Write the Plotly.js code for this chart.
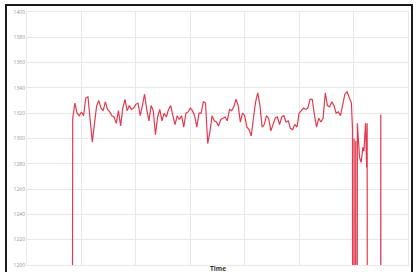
<!DOCTYPE html>
<html>
<head>
<meta charset="utf-8">
<script src="https://cdn.plot.ly/plotly-3.0.1.min.js"></script>
<style>
html,body{margin:0;padding:0;background:#fff;}
#chart{position:absolute;left:0;top:0;width:416px;height:272px;}
#frame{position:absolute;left:5px;top:4px;width:404px;height:290px;border:2px solid #1a1a1a;pointer-events:none;}
</style>
</head>
<body>
<div id="chart"></div>
<div id="frame"></div>
<script>
// Leading sample (below visible range)
const leadTime = [80];
const leadValues = [0];

// Main regularly sampled section
const mainStart = 84;
const mainStep = 4;
const mainValues = [
  1316,1328,1320,1318,1321,1318,1332,1333,1316,1297,
  1312,1326,1330,1324,1322,1329,1323,1321,1318,1317,
  1312,1322,1310,1324,1331,1322,1326,1323,1324,1327,
  1328,1318,1326,1335,1323,1314,1326,1322,1303,1317,
  1323,1314,1320,1317,1323,1326,1318,1311,1318,1315,
  1318,1309,1320,1321,1324,1322,1318,1309,1320,1320,
  1329,1328,1296,1305,1318,1314,1313,1310,1315,1316,
  1317,1314,1323,1322,1325,1331,1326,1313,1320,1318,
  1309,1307,1302,1316,1329,1336,1326,1309,1311,1318,
  1316,1306,1312,1316,1317,1311,1317,1318,1313,1314,
  1308,1307,1311,1309,1320,1322,1324,1323,1324,1331,
  1331,1319,1309,1316,1313,1316,1336,1326,1325,1329,
  1326,1320,1321,1318,1327,1335,1337,1332,1328
];

// Tail section with dropouts
const tailTime   = [598, 599, 601, 602, 604, 605, 607, 611, 614, 617, 619, 622, 624, 625, 626, 649, 650, 651];
const tailValues = [1308, 0, 1300, 0, 1298, 0, 1312, 1285, 1281, 1293, 1290, 1312, 1277, 1312, 0, 0, 1319, 0];

const yTicks = [1200,1220,1240,1260,1280,1300,1320,1340,1360,1380,1400];

const mainTime = mainValues.map((_, i) => mainStart + i * mainStep);
const time = leadTime.concat(mainTime, tailTime);
const values = leadValues.concat(mainValues, tailValues);

const trace = {
  x: time, y: values, type: 'scatter', mode: 'lines',
  line: {color: '#e23a4e', width: 1.2},
  hoverinfo: 'skip'
};

const layout = {
  width: 416, height: 272,
  margin: {l: 27, r: 8, t: 12, b: 7},
  paper_bgcolor: '#ffffff', plot_bgcolor: '#ffffff',
  showlegend: false,
  font: {family: 'Open Sans, sans-serif'},
  xaxis: {
    range: [0, 700], dtick: 100, tick0: 0,
    showticklabels: false, ticks: '',
    showgrid: true, gridcolor: '#e8e8e8', gridwidth: 1,
    zeroline: false, showline: true, linecolor: '#e8e8e8', linewidth: 1, mirror: true
  },
  yaxis: {
    range: [1200, 1400], tickvals: yTicks, ticktext: yTicks.map(String),
    tickfont: {size: 5, color: '#999999'}, ticks: '',
    showgrid: true, gridcolor: '#e8e8e8', gridwidth: 1,
    zeroline: false, showline: true, linecolor: '#e8e8e8', linewidth: 1, mirror: true
  },
  annotations: [{
    text: '<b>Time</b>', xref: 'paper', yref: 'paper', x: 0.5, y: -0.012,
    xanchor: 'center', yanchor: 'middle', showarrow: false,
    font: {size: 6.5, color: '#333333'}
  }]
};

Plotly.newPlot('chart', [trace], layout, {staticPlot: true, displayModeBar: false});
</script>
</body>
</html>
